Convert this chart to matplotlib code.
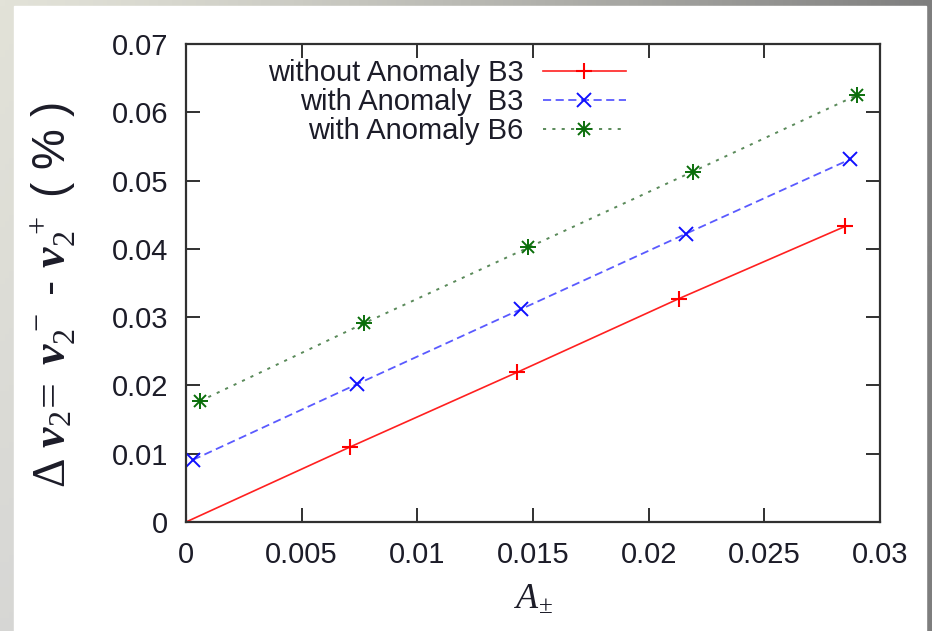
import matplotlib.pyplot as plt
import numpy as np
from matplotlib.patches import Rectangle
from matplotlib.lines import Line2D

plt.rcParams['font.family'] = ['Liberation Sans', 'DejaVu Sans']
plt.rcParams['mathtext.fontset'] = 'custom'
plt.rcParams['mathtext.rm'] = 'Liberation Serif'
plt.rcParams['mathtext.it'] = 'Liberation Serif:italic'
plt.rcParams['mathtext.bf'] = 'Liberation Serif:bold:italic'
plt.rcParams['mathtext.sf'] = 'Liberation Sans'

# asymmetry A+- and the resulting v2 splitting (in %)
a_nob3 = [0.0, 0.0071, 0.0143, 0.0213, 0.0285]
dv_nob3 = [0.0, 0.0110, 0.0219, 0.0327, 0.0433]

a_b3 = [0.0003, 0.0074, 0.0145, 0.0216, 0.0287]
dv_b3 = [0.0091, 0.0202, 0.0312, 0.0422, 0.0531]

a_b6 = [0.0006, 0.0077, 0.0148, 0.0219, 0.0290]
dv_b6 = [0.0177, 0.0291, 0.0402, 0.0513, 0.0625]

labels = ['without Anomaly B3', 'with Anomaly  B3', 'with Anomaly B6']

xticks = [0, 0.005, 0.01, 0.015, 0.02, 0.025, 0.03]
xticklabels = ['0', '0.005', '0.01', '0.015', '0.02', '0.025', '0.03']
yticks = [0, 0.01, 0.02, 0.03, 0.04, 0.05, 0.06, 0.07]
yticklabels = ['0', '0.01', '0.02', '0.03', '0.04', '0.05', '0.06', '0.07']

W, H = 932, 631
fig = plt.figure(figsize=(W / 100, H / 100), dpi=100)

# slide-style grey frame behind a white page
bg = fig.add_axes([0, 0, 1, 1], zorder=-10)
gx = np.linspace(0, 1, 200)
gy = np.linspace(0, 1, 100)[:, None]
shade = np.empty((100, 200, 3))
for k, c0, c1 in [(0, 226, 126), (1, 226, 126), (2, 216, 126)]:
    top = c0 + (c1 - c0) * gx ** 1.3
    shade[:, :, k] = (top * (1 - gy) + (top * 0.2 + 212 * 0.8) * gy * (gx < 0.5)
                      + top * gy * (gx >= 0.5)) / 255
bg.imshow(np.clip(shade, 0, 1), aspect='auto', extent=[0, 1, 0, 1])
bg.add_patch(Rectangle((14 / W, 0), (926 - 14) / W, 1 - 6 / H, color='white'))
bg.set_xlim(0, 1)
bg.set_ylim(0, 1)
bg.axis('off')

ax = fig.add_axes([186 / W, 1 - 522 / H, (880 - 186) / W, (522 - 44) / H])

ink = '#1c1c28'
fs = 21
green = '#0a6e0a'

l1, = ax.plot(a_nob3, dv_nob3, color='#ff2020', lw=1.2, marker='+',
              ms=12, mew=1.5, mec='#ff0000')
l2, = ax.plot(a_b3, dv_b3, color='#5a5aff', lw=1.3, ls=(0, (4.5, 2.5)),
              marker='x', ms=10, mew=1.4, mec='#1010ff')
ax.plot(a_b6, dv_b6, color='#5a8a5a', lw=1.4, ls=(0, (1.6, 3.2)))
# gnuplot-style asterisk made of two crosses
ax.plot(a_b6, dv_b6, ls='none', marker='+', ms=12, mew=1.4, color=green)
ax.plot(a_b6, dv_b6, ls='none', marker='x', ms=9, mew=1.4, color=green)

ax.set_xlim(0, 0.03)
ax.set_ylim(0, 0.07)
ax.set_xticks(xticks)
ax.set_xticklabels(xticklabels)
ax.set_yticks(yticks)
ax.set_yticklabels(yticklabels)
ax.tick_params(direction='in', length=10, width=1.4, color='#303030',
               top=True, right=True, labelsize=fs, labelcolor=ink)
ax.tick_params(axis='y', pad=13)
ax.tick_params(axis='x', pad=14)
for s in ax.spines.values():
    s.set_linewidth(1.6)
    s.set_color('#303030')

ax.set_xlabel(r'$A_{\pm}$', fontsize=26, color=ink, labelpad=9)
ax.set_ylabel(r'$\Delta\ \mathbf{v}_2\!=\ \mathbf{v}_2^{\ -}$ - $\mathbf{v}_2^{\ +}$ ( % )',
              fontsize=33, color=ink)
ax.yaxis.set_label_coords(-0.156, 0.475)

# one legend per row so the texts line up on their right edge
g_handle = (Line2D([], [], color='#5a8a5a', lw=1.4, ls=(0, (1.6, 3.2))),
            Line2D([], [], ls='none', marker='+', ms=12, mew=1.4, color=green),
            Line2D([], [], ls='none', marker='x', ms=9, mew=1.4, color=green))
rows = [(l1, labels[0], 0.939), (l2, labels[1], 0.879), (g_handle, labels[2], 0.818)]
for i, (h, lab, yy) in enumerate(rows):
    leg = ax.legend([h], [lab], loc='center right', bbox_to_anchor=(0.634, yy),
                    frameon=False, markerfirst=False, fontsize=fs,
                    handlelength=2.86, handletextpad=0.65, borderpad=0,
                    borderaxespad=0, numpoints=1)
    for t in leg.get_texts():
        t.set_color(ink)
    if i < len(rows) - 1:
        ax.add_artist(leg)

fig.savefig('out.png', dpi=100)
